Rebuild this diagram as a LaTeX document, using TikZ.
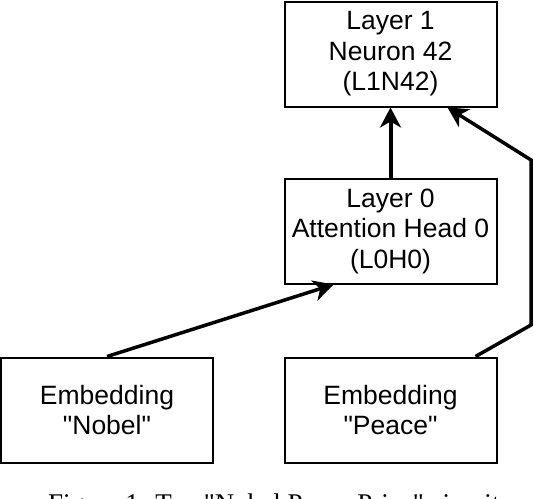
\documentclass[tikz,border=0pt]{standalone}
\usepackage{fontspec}
\newfontfamily\boxfont{Liberation Sans}
\newfontfamily\capfont{Liberation Serif}
\usetikzlibrary{arrows.meta}
\begin{document}
\begin{tikzpicture}[x=1pt,y=-1pt,
  box/.style={draw=black, line width=2pt, minimum width=212pt, minimum height=105pt,
    inner sep=0pt, align=center, font=\boxfont\fontsize{26.5}{30.5}\selectfont},
  arr/.style={line width=4pt, -{Stealth[length=20pt,width=21pt,inset=6pt]}}]
\useasboundingbox (0,0) rectangle (534,498);
\clip (0,0) rectangle (534,498);
\node[box] (top)   at (390.5,54)  {Layer 1\\Neuron 42\\(L1N42)};
\node[box] (mid)   at (390.5,231) {Layer 0\\Attention Head 0\\(L0H0)};
\node[box] (nobel) at (107,410)   {Embedding\\"Nobel"};
\node[box] (peace) at (390.5,410) {Embedding\\"Peace"};
\coordinate (c1) at (531,325);
\coordinate (c2) at (531,160);
\draw[arr] (mid.north) -- (top.south);
\draw[arr, line width=3.5pt] (nobel.north) -- ([xshift=-57pt]mid.south);
\draw[arr, line width=3.5pt] ([xshift=-22pt]peace.north east) -- (c1) -- (c2) -- ([xshift=57pt]top.south);
\node[anchor=base west, inner sep=0pt, font=\capfont\fontsize{27}{30}\selectfont] (cap) at (48,512) {Figure 1: Top "Nobel Peace Prize" circuit};
\end{tikzpicture}
\end{document}
